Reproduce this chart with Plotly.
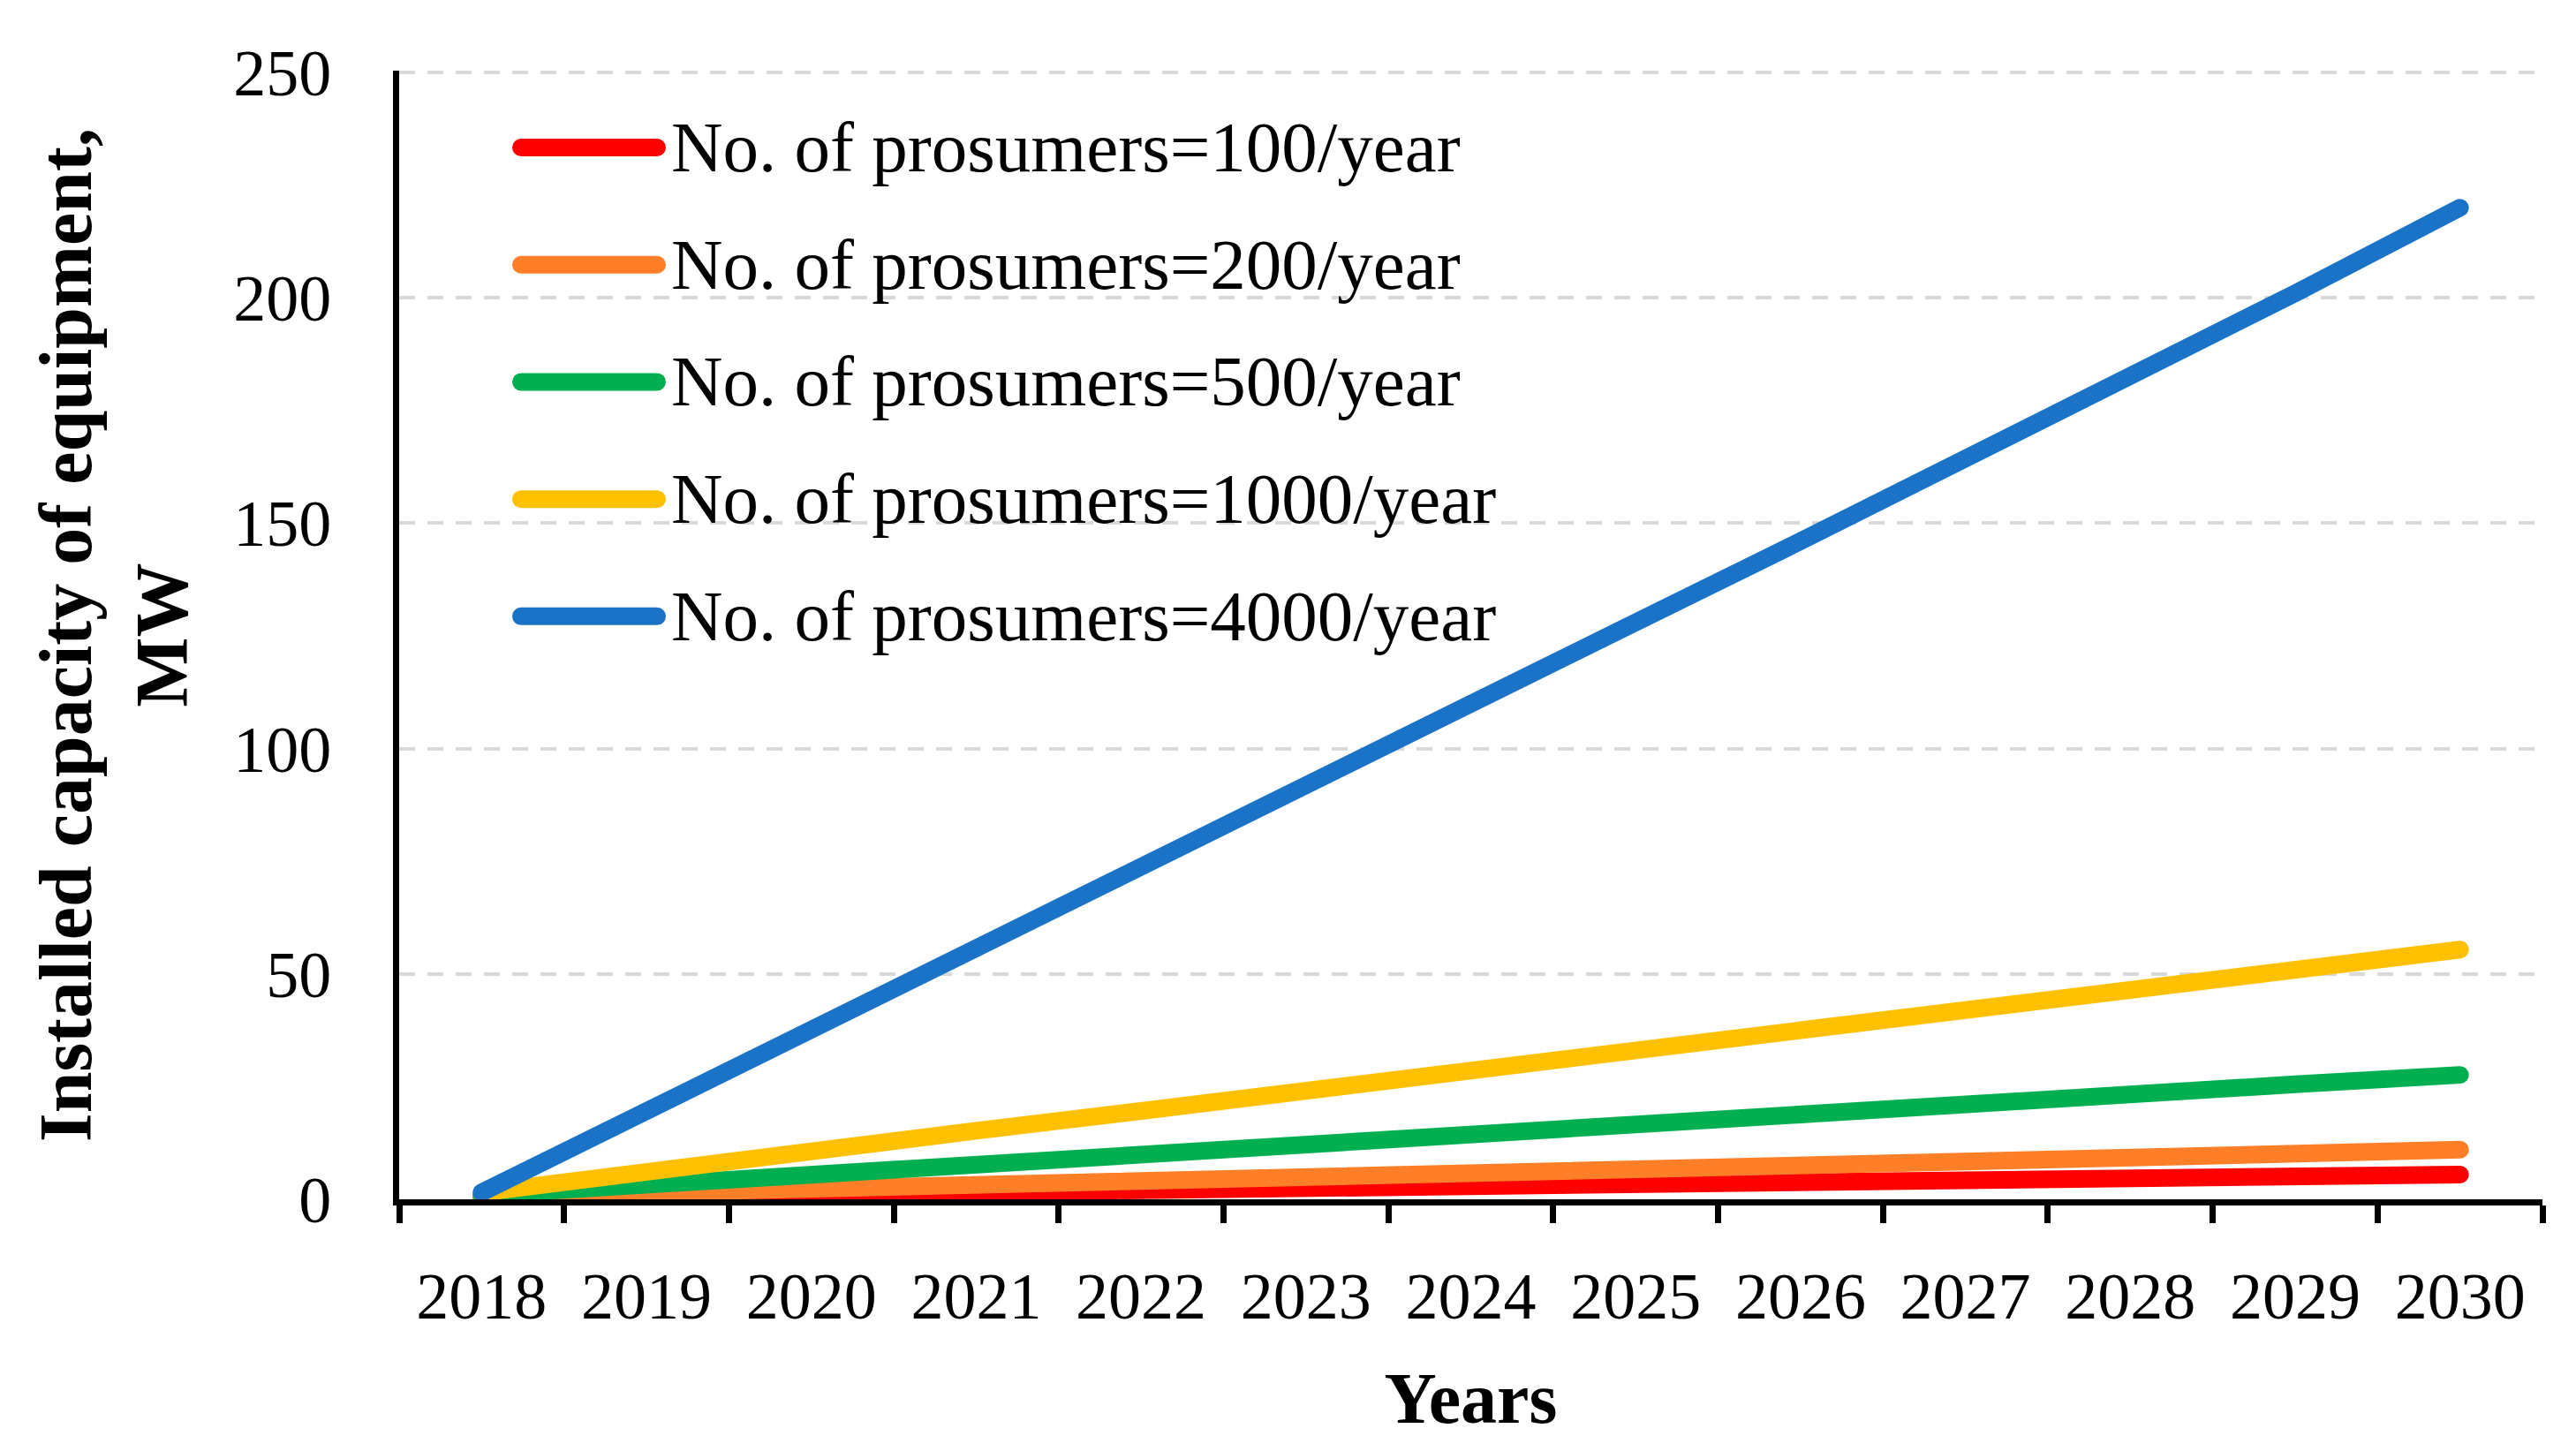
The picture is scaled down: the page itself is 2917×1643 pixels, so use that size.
import plotly.graph_objects as go

# ---- data ----
years = ["2018", "2019", "2020", "2021", "2022", "2023", "2024",
         "2025", "2026", "2027", "2028", "2029", "2030"]

labels = ["No. of prosumers=100/year",
          "No. of prosumers=200/year",
          "No. of prosumers=500/year",
          "No. of prosumers=1000/year",
          "No. of prosumers=4000/year"]

p100 = [0.3, 0.7, 1.2, 1.6, 2.0, 2.5, 2.9, 3.3, 3.8, 4.2, 4.6, 5.1, 5.5]
p200 = [0.6, 1.5, 2.5, 3.4, 4.4, 5.4, 6.3, 7.1, 7.8, 8.6, 9.4, 10.2, 11.0]
p500 = [1.0, 3.3, 5.7, 8.0, 10.2, 12.4, 14.6, 16.8, 18.9, 21.1, 23.3, 25.5, 27.6]
p1000 = [1.5, 6.3, 10.8, 15.2, 19.6, 24.0, 28.3, 32.8, 37.2, 41.8, 46.3, 50.8, 55.4]
p4000 = [1.5, 19.7, 37.9, 56.2, 74.0, 92.0, 110.0, 128.0, 146.0, 164.0, 182.0, 201.0, 220.0]

series = [p100, p200, p500, p1000, p4000]
colors = ["#FF0000", "#FE7F27", "#00B050", "#FFC000", "#1A73C7"]

y_ticks = [0, 50, 100, 150, 200, 250]

# ---- layout constants (pixels) ----
W, H = 2917, 1643
L, R, B = 452, 2879, 1358
Y_TOP = 250.4                    # a hair above 250 so the 250 gridline is drawn
T = B - (B - 82) * Y_TOP / 250.0
FONT = "Liberation Serif"

def px_x(x):
    return (x - L) / (R - L)

def px_y(y):
    return (B - y) / (B - T)

fig = go.Figure()
for lab, vals, col in zip(labels, series, colors):
    fig.add_trace(go.Scatter(x=years, y=vals, mode="lines", name=lab,
                             line=dict(color=col, width=20),
                             showlegend=False))

# ---- manual legend (long sample lines like the original) ----
leg_x0, leg_x1, leg_tx = 590, 744, 758
leg_y0, leg_dy = 167, 132.7
shapes = []
annotations = []
for i, (lab, col) in enumerate(zip(labels, colors)):
    yy = px_y(leg_y0 + i * leg_dy)
    shapes.append(dict(type="line", xref="paper", yref="paper",
                       x0=px_x(leg_x0), x1=px_x(leg_x1), y0=yy, y1=yy,
                       line=dict(color=col, width=20)))
    annotations.append(dict(xref="paper", yref="paper", x=px_x(leg_tx), y=yy,
                            xanchor="left", yanchor="middle", showarrow=False,
                            text=lab, font=dict(family=FONT, size=81, color="black")))

fig.update_layout(
    width=W, height=H,
    margin=dict(l=L, r=W - R, t=T, b=H - B, pad=0),
    paper_bgcolor="white", plot_bgcolor="white",
    font=dict(family=FONT, color="black"),
    shapes=shapes, annotations=annotations,
    showlegend=False,
)

fig.update_xaxes(
    type="category", categoryorder="array", categoryarray=years,
    range=[-0.5, 12.5], tickson="boundaries",
    ticks="outside", ticklen=20, tickwidth=7, tickcolor="black",
    showline=True, linewidth=7, linecolor="black",
    showgrid=False, zeroline=False,
    tickfont=dict(family=FONT, size=74, color="black"),
    ticklabelstandoff=39,
    title=dict(text="Years", font=dict(family=FONT, size=82, color="black", weight="bold"),
               standoff=48),
)

fig.update_yaxes(
    range=[0, Y_TOP], tickvals=y_ticks,
    ticks="", showline=True, linewidth=7, linecolor="black",
    showgrid=True, gridcolor="#D9D9D9", gridwidth=4, griddash="18px,14px",
    zeroline=False,
    tickfont=dict(family=FONT, size=74, color="black"),
    ticklabelstandoff=55,
    title=dict(text="Installed capacity of equipment,<br>MW",
               font=dict(family=FONT, size=84, color="black", weight="bold"),
               standoff=26),
)

post = ("document.body.style.margin='0';"
        "document.querySelectorAll('.scatterlayer path.js-line, .shapelayer path')"
        ".forEach(function(p){p.style.strokeLinecap='round';});")

fig.write_html("out.html", post_script=post, config={"displayModeBar": False})
